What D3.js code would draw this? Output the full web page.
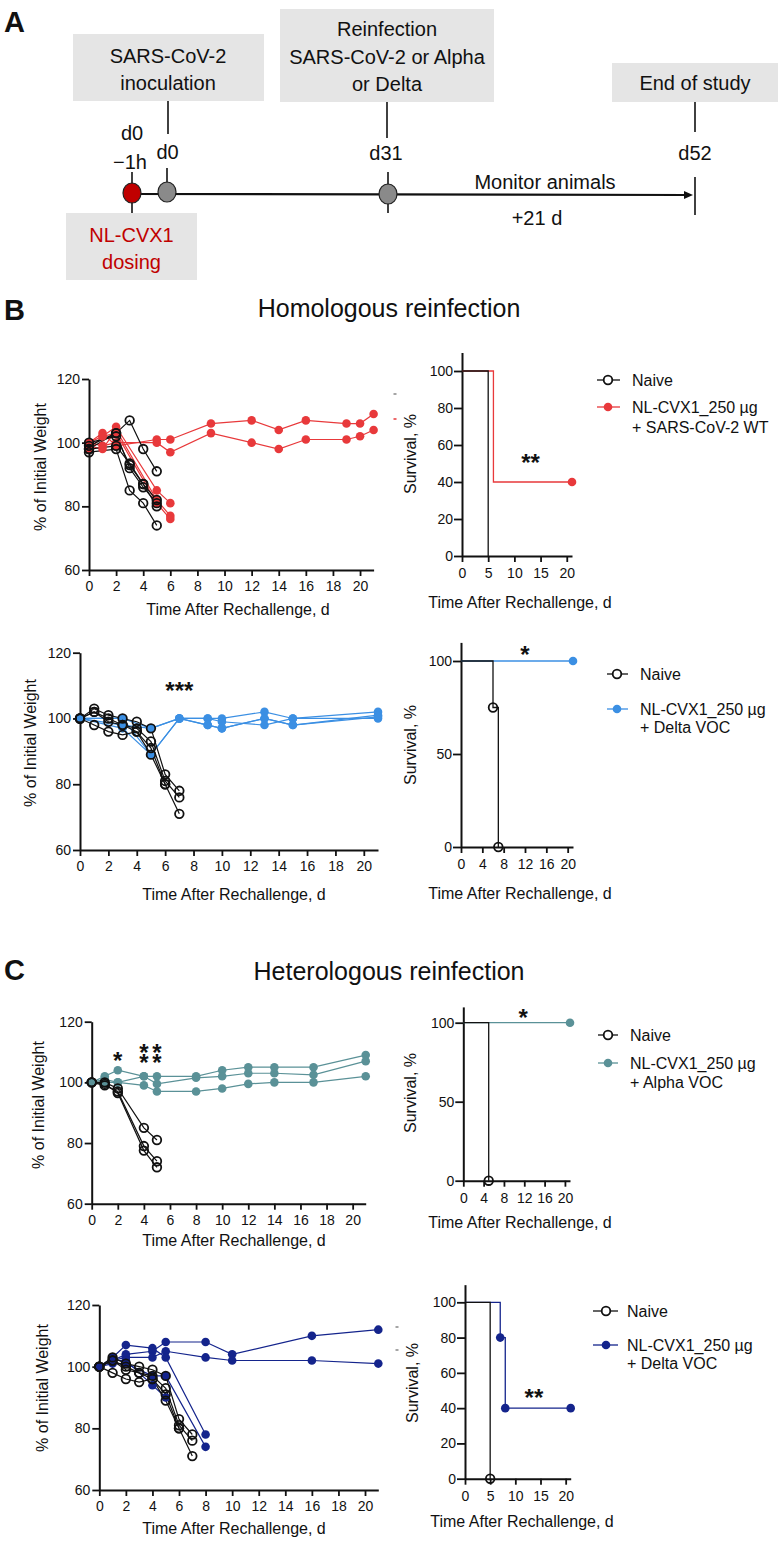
<!DOCTYPE html>
<html><head><meta charset="utf-8">
<script src="https://cdn.jsdelivr.net/npm/d3@7"></script>
<style>
body{margin:0;background:#fff}
svg{display:block}
text{font-family:"Liberation Sans",Arial,sans-serif;fill:#111}
</style>
</head><body>
<svg id="fig" width="778" height="1545"></svg>
<script>
// ---------------- DATA ----------------
// Panel A timeline texts
const boxTexts = [["SARS-CoV-2","inoculation"],["Reinfection","SARS-CoV-2 or Alpha","or Delta"],["End of study"],["NL-CVX1","dosing"]];
const dayLabels = ["d0","−1h","d0","d31","d52"];
const monitorText = ["Monitor animals","+21 d"];

// Shared ticks
const weightXTicks = [0,2,4,6,8,10,12,14,16,18,20];
const weightYTicks = [60,80,100,120];
const survXTicks5 = [0,5,10,15,20];
const survXTicks4 = [0,4,8,12,16,20];
const survYTicks20 = [0,20,40,60,80,100];
const survYTicks50 = [0,50,100];

// Row 1: homologous, SARS-CoV-2 WT
const hom1NaiveDays = [0,2,3,4,5];
const hom1Naive = [
  [98,103,107,98,91],
  [100,102,93,87,82],
  [99,103,92,86,81],
  [97,98,85,81,74],
  [98,99,93.5,87,80]
];
const hom1TreatedDays = [0,1,2,5,6,9,12,14,16,19,20,21];
const hom1Treated = [
  [100,103,99,101,101,106,107,104,107,106,106,109],
  [100,99,100,100,97,103,100,98,101,101,102,104],
  [100,102,105,85,81],
  [99,98,104,82,77],
  [98,102,103,81,76]
];
const hom1SurvNaive = [[0,100],[5,0]];
const hom1SurvTreated = [[0,100],[6,40],[21,40]];
const hom1SurvNaiveMarks = [];
const hom1SurvTreatedMarks = [[21,40]];

// Delta naive group (shown in rows 2 and 4)
const deltaNaiveDays = [0,1,2,3,4,5,6,7];
const deltaNaive = [
  [100,103,101,100,99,97,83,78],
  [100,102,100,98,97,93,81,76],
  [100,102,99,98,96,91,80,71],
  [100,98,96,95,96,89,80]
];

// Row 2: homologous, Delta VOC
const hom2TreatedDays = [0,3,5,7,9,10,13,15,21];
const hom2Treated = [
  [100,100,97,100,100,100,102,100,102],
  [100,98,97,100,98,97,100,98,101],
  [100,100,89,100,100,99,98,100,100],
  [100,97,89,100,98,97,100,98,100.5]
];
const hom2SurvNaive = [[0,100],[6,75],[7,0]];
const hom2SurvTreated = [[0,100],[21,100]];
const hom2SurvNaiveMarks = [[6,75],[7,0]];
const hom2SurvTreatedMarks = [[21,100]];

// Row 3: heterologous, Alpha VOC
const het1NaiveDays = [0,1,2,4,5];
const het1Naive = [
  [100,100,98,85,81],
  [100,99,97,79,74],
  [100,99.5,96.5,77.5,72]
];
const het1TreatedDays = [0,1,2,4,5,8,10,12,14,17,21];
const het1Treated = [
  [100,102,104,102,102,102,104,105,105,105,109],
  [100,101,100,102,99.5,101.5,102,103,103,102.5,107],
  [100,100,100,99,97,97,98,99.5,100,100,102]
];
const het1SurvNaive = [[0,100],[5,0]];
const het1SurvTreated = [[0,100],[21,100]];
const het1SurvNaiveMarks = [[5,0]];
const het1SurvTreatedMarks = [[21,100]];

// Row 4: heterologous, Delta VOC
const het2TreatedDays = [0,1,2,4,5,8,10,16,21];
const het2Treated = [
  [100,102,104,105,108,108,104,110,112],
  [100,102,103,103,105,103,102,102,101],
  [100,103,107,106,103,78],
  [100,101,101,97,97,74],
  [100,102,102,94,90]
];
const het2SurvNaive = [[0,100],[5,0]];
const het2SurvTreated = [[0,100],[7,80],[8,40],[21,40]];
const het2SurvNaiveMarks = [[5,0]];
const het2SurvTreatedMarks = [[7,80],[8,40],[21,40]];

// Significance annotations: [days per glyph, values per glyph, text]
// (a single day/value means the whole string is centred there)
const hom1SurvStars = [[[13.1],[53],"**"]];
const hom2WeightStars = [[[7],[109.8],"***"]];
const hom2SurvStars = [[[12],[106],"*"]];
const het1WeightStars = [[[2],[108.8],"*"],[[4,5,4,5],[111.2,111.2,107.9,107.9],"****"]];
const het1SurvStars = [[[11.8],[106],"*"]];
const het2SurvStars = [[[13.7],[48.6],"**"]];

const legendNaive = "Naive";
const legendTreated = "NL-CVX1_250 µg";
const legendVariants = ["+ SARS-CoV-2 WT","+ Delta VOC","+ Alpha VOC","+ Delta VOC"];
const titles = ["Homologous reinfection","Heterologous reinfection"];
const panelLetters = ["A","B","C"];
const xTitle = "Time After Rechallenge, d";
const yWeightTitle = "% of Initial Weight";
const ySurvTitle = "Survival, %";

const colors = {red:"#e8393b", blue:"#3b8fe3", teal:"#5a9197", navy:"#14248c", naive:"#111"};

// ---------------- DRAW ----------------
const svg = d3.select("#fig");
svg.append("rect").attr("width",778).attr("height",1545).attr("fill","#fff");

// ---- Panel A ----
const A = svg.append("g");
const boxGeo = [
  {x:73,y:34,w:191,h:67,cx:168,ys:[56,83]},
  {x:280,y:9,w:214,h:93,cx:387,ys:[29,56.5,83.5]},
  {x:612,y:63,w:166,h:39,cx:695,ys:[83]},
  {x:66,y:213,w:131,h:67,cx:131.5,ys:[235,262],color:"#c00000"}
];
boxGeo.forEach((b,i)=>{
  A.append("rect").attr("x",b.x).attr("y",b.y).attr("width",b.w).attr("height",b.h).attr("fill","#e5e5e5");
  boxTexts[i].forEach((t,j)=>{
    A.append("text").attr("x",b.cx).attr("y",b.ys[j]).attr("dy","0.36em").attr("text-anchor","middle")
     .attr("font-size",20).style("fill",b.color||"#111").text(t);
  });
});
// connectors
[[168,101,134],[387,102,138],[695,102,132]].forEach(c=>{
  A.append("line").attr("x1",c[0]).attr("x2",c[0]).attr("y1",c[1]).attr("y2",c[2]).attr("stroke","#111").attr("stroke-width",1.6);
});
// timeline
A.append("line").attr("x1",132).attr("x2",686).attr("y1",194).attr("y2",195).attr("stroke","#111").attr("stroke-width",2.2);
A.append("path").attr("d","M684,191 L693,195 L684,199 Z").attr("fill","#111");
// vertical ticks
[[132,172,213],[167,168,200],[388,172,213],[695,177,215]].forEach(c=>{
  A.append("line").attr("x1",c[0]).attr("x2",c[0]).attr("y1",c[1]).attr("y2",c[2]).attr("stroke","#111").attr("stroke-width",1.6);
});
A.append("ellipse").attr("cx",132).attr("cy",193).attr("rx",9).attr("ry",10).attr("fill","#c00000").attr("stroke","#222").attr("stroke-width",1.2);
A.append("ellipse").attr("cx",167).attr("cy",192).attr("rx",9).attr("ry",10).attr("fill","#8a8a8a").attr("stroke","#222").attr("stroke-width",1.2);
A.append("ellipse").attr("cx",388).attr("cy",194).attr("rx",9).attr("ry",10).attr("fill","#8a8a8a").attr("stroke","#222").attr("stroke-width",1.2);
const dlPos = [[132,133],[130,162],[167.5,152],[386,153],[695,153]];
dayLabels.forEach((t,i)=>{
  A.append("text").attr("x",dlPos[i][0]).attr("y",dlPos[i][1]).attr("dy","0.36em").attr("text-anchor","middle").attr("font-size",20).text(t);
});
A.append("text").attr("x",545).attr("y",182).attr("dy","0.36em").attr("text-anchor","middle").attr("font-size",20).text(monitorText[0]);
A.append("text").attr("x",537).attr("y",218).attr("dy","0.36em").attr("text-anchor","middle").attr("font-size",20).text(monitorText[1]);

// panel letters and titles
[[4,32],[4,320],[4,980]].forEach((p,i)=>{
  svg.append("text").attr("x",p[0]).attr("y",p[1]).attr("font-size",29).attr("font-weight","bold").text(panelLetters[i]);
});
svg.append("text").attr("x",389).attr("y",317).attr("text-anchor","middle").attr("font-size",25).text(titles[0]);
svg.append("text").attr("x",389).attr("y",980).attr("text-anchor","middle").attr("font-size",25).text(titles[1]);

function styleAxis(g, fs){
  g.attr("font-family",null).attr("font-size",null);
  g.selectAll("path.domain").attr("stroke","#111").attr("stroke-width",2);
  g.selectAll(".tick line").attr("stroke","#111").attr("stroke-width",1.8);
  g.selectAll(".tick text").attr("font-size",fs).style("fill","#111");
}

function stars(g, x, y, list){
  list.forEach(s=>{
    const xs = s[0].map(d=>x(d)).join(" ");
    const ys = s[1].map(v=>y(v)+13).join(" ");
    g.append("text").attr("x",xs).attr("y",ys).attr("text-anchor","middle")
     .attr("font-size",24).attr("font-weight","bold").text(s[2]);
  });
}

function weightChart(c){
  const g = svg.append("g");
  const x = d3.scaleLinear().domain([0,21]).range([c.x0,c.x1]);
  const y = d3.scaleLinear().domain([60,120]).range([c.y0,c.y1]);
  const xa = g.append("g").attr("transform",`translate(0,${c.y0})`)
    .call(d3.axisBottom(x).tickValues(weightXTicks).tickSize(6).tickSizeOuter(0).tickPadding(5));
  styleAxis(xa,14);
  const ya = g.append("g").attr("transform",`translate(${c.x0},0)`)
    .call(d3.axisLeft(y).tickValues(weightYTicks).tickSize(7).tickSizeOuter(0).tickPadding(2));
  styleAxis(ya,14);
  g.append("text").attr("x",c.xtX).attr("y",c.xtY).attr("dy","0.36em").attr("text-anchor","middle").attr("font-size",16).text(xTitle);
  g.append("text").attr("transform",`translate(${c.ylX},${c.ylY}) rotate(-90)`).attr("dy","0.36em").attr("text-anchor","middle").attr("font-size",16).text(yWeightTitle);
  const line = d3.line().x(d=>x(d[0])).y(d=>y(d[1]));
  // treated first
  c.treated.forEach(vals=>{
    const pts = vals.map((v,i)=>[c.treatedDays[i],v]);
    g.append("path").attr("d",line(pts)).attr("fill","none").attr("stroke",c.color).attr("stroke-width",1.2);
  });
  c.naive.forEach(vals=>{
    const pts = vals.map((v,i)=>[c.naiveDays[i],v]);
    g.append("path").attr("d",line(pts)).attr("fill","none").attr("stroke",colors.naive).attr("stroke-width",1.2);
  });
  c.treated.forEach(vals=>{
    vals.forEach((v,i)=>{
      g.append("circle").attr("cx",x(c.treatedDays[i])).attr("cy",y(v)).attr("r",4.3).attr("fill",c.color);
    });
  });
  c.naive.forEach(vals=>{
    vals.forEach((v,i)=>{
      g.append("circle").attr("cx",x(c.naiveDays[i])).attr("cy",y(v)).attr("r",4.3).attr("fill","none").attr("stroke",colors.naive).attr("stroke-width",1.8);
    });
  });
  if(c.stars) stars(g,x,y,c.stars);
}

function survChart(c){
  const g = svg.append("g");
  const x = d3.scaleLinear().domain([0,21]).range([c.x0,c.x1]);
  const y = d3.scaleLinear().domain([0,100]).range([c.y0,c.y100]);
  const yAxisScale = d3.scaleLinear().domain([0,110]).range([c.y0, y(110)]);
  const xa = g.append("g").attr("transform",`translate(0,${c.y0})`)
    .call(d3.axisBottom(x).tickValues(c.xTicks).tickSize(6).tickSizeOuter(0).tickPadding(6));
  styleAxis(xa,14);
  const ya = g.append("g").attr("transform",`translate(${c.x0},0)`)
    .call(d3.axisLeft(yAxisScale).tickValues(c.yTicks).tickSize(8).tickSizeOuter(0).tickPadding(1));
  styleAxis(ya,14);
  g.append("text").attr("x",c.xtX).attr("y",c.xtY).attr("dy","0.36em").attr("text-anchor","middle").attr("font-size",16).text(xTitle);
  g.append("text").attr("transform",`translate(${c.ylX},${c.ylY}) rotate(-90)`).attr("dy","0.36em").attr("text-anchor","middle").attr("font-size",16).text(ySurvTitle);
  const line = d3.line().curve(d3.curveStepAfter).x(d=>x(d[0])).y(d=>y(d[1]));
  g.append("path").attr("d",line(c.treated)).attr("fill","none").attr("stroke",c.color).attr("stroke-width",1.3);
  g.append("path").attr("d",line(c.naive)).attr("fill","none").attr("stroke",colors.naive).attr("stroke-width",1.3);
  c.treatedMarks.forEach(p=>g.append("circle").attr("cx",x(p[0])).attr("cy",y(p[1])).attr("r",4.3).attr("fill",c.color));
  c.naiveMarks.forEach(p=>g.append("circle").attr("cx",x(p[0])).attr("cy",y(p[1])).attr("r",4.3).attr("fill","none").attr("stroke",colors.naive).attr("stroke-width",1.8));
  if(c.stars) stars(g,x,y,c.stars);
  // legend
  const L = c.leg;
  g.append("line").attr("x1",L.x0).attr("x2",L.x1).attr("y1",L.y[0]).attr("y2",L.y[0]).attr("stroke",colors.naive).attr("stroke-width",1.3);
  g.append("circle").attr("cx",L.cx).attr("cy",L.y[0]).attr("r",4.3).attr("fill","#fff").attr("stroke",colors.naive).attr("stroke-width",1.8);
  g.append("line").attr("x1",L.x0).attr("x2",L.x1).attr("y1",L.y[1]).attr("y2",L.y[1]).attr("stroke",c.color).attr("stroke-width",1.3);
  g.append("circle").attr("cx",L.cx).attr("cy",L.y[1]).attr("r",4.3).attr("fill",c.color);
  g.append("text").attr("x",L.tx).attr("y",L.y[0]).attr("dy","0.36em").attr("font-size",16).text(legendNaive);
  g.append("text").attr("x",L.tx).attr("y",L.y[1]).attr("dy","0.36em").attr("font-size",16).text(legendTreated);
  g.append("text").attr("x",L.tx).attr("y",L.y[2]).attr("dy","0.36em").attr("font-size",16).text(c.variant);
}

weightChart({x0:89,x1:373.6,y0:570,y1:379,naiveDays:hom1NaiveDays,naive:hom1Naive,treatedDays:hom1TreatedDays,treated:hom1Treated,color:colors.red,ylX:40,ylY:467,xtX:238,xtY:609});
weightChart({x0:80,x1:378,y0:850,y1:652.7,naiveDays:deltaNaiveDays,naive:deltaNaive,treatedDays:hom2TreatedDays,treated:hom2Treated,color:colors.blue,ylX:30,ylY:743,xtX:234,xtY:894,stars:hom2WeightStars});
weightChart({x0:91.7,x1:365.7,y0:1203.7,y1:1021.7,naiveDays:het1NaiveDays,naive:het1Naive,treatedDays:het1TreatedDays,treated:het1Treated,color:colors.teal,ylX:38,ylY:1105,xtX:234,xtY:1240,stars:het1WeightStars});
weightChart({x0:99.3,x1:378.3,y0:1490,y1:1305,naiveDays:deltaNaiveDays,naive:deltaNaive,treatedDays:het2TreatedDays,treated:het2Treated,color:colors.navy,ylX:42,ylY:1388,xtX:234,xtY:1528});

survChart({x0:462,x1:572,y0:556,y100:371,xTicks:survXTicks5,yTicks:survYTicks20,naive:hom1SurvNaive,treated:hom1SurvTreated,naiveMarks:hom1SurvNaiveMarks,treatedMarks:hom1SurvTreatedMarks,color:colors.red,ylX:410,ylY:454,xtX:520,xtY:602,stars:hom1SurvStars,variant:legendVariants[0],leg:{x0:597,x1:620,cx:608,tx:632,y:[380,407,427.5]}});
survChart({x0:461,x1:573,y0:847,y100:661,xTicks:survXTicks4,yTicks:survYTicks50,naive:hom2SurvNaive,treated:hom2SurvTreated,naiveMarks:hom2SurvNaiveMarks,treatedMarks:hom2SurvTreatedMarks,color:colors.blue,ylX:410,ylY:745,xtX:520,xtY:893,stars:hom2SurvStars,variant:legendVariants[1],leg:{x0:607,x1:628,cx:617,tx:640,y:[674,709,727.5]}});
survChart({x0:463.3,x1:570,y0:1180.7,y100:1022.7,xTicks:survXTicks4,yTicks:survYTicks50,naive:het1SurvNaive,treated:het1SurvTreated,naiveMarks:het1SurvNaiveMarks,treatedMarks:het1SurvTreatedMarks,color:colors.teal,ylX:410,ylY:1093,xtX:520,xtY:1222,stars:het1SurvStars,variant:legendVariants[2],leg:{x0:598,x1:618,cx:608,tx:630,y:[1035,1063,1082]}});
survChart({x0:465,x1:570.7,y0:1478.7,y100:1302.3,xTicks:survXTicks5,yTicks:survYTicks20,naive:het2SurvNaive,treated:het2SurvTreated,naiveMarks:het2SurvNaiveMarks,treatedMarks:het2SurvTreatedMarks,color:colors.navy,ylX:412,ylY:1383,xtX:522,xtY:1521,stars:het2SurvStars,variant:legendVariants[3],leg:{x0:593,x1:618,cx:606,tx:627,y:[1311,1345,1363]}});

// small stray marks seen at the right edge of two weight panels
[[395,394,"#888"],[395,419,colors.red],[397,1327,"#888"],[397,1350,"#888"]].forEach(m=>{
  svg.append("rect").attr("x",m[0]-1.5).attr("y",m[1]-0.75).attr("width",3).attr("height",1.5).attr("fill",m[2]);
});
</script>
</body></html>
